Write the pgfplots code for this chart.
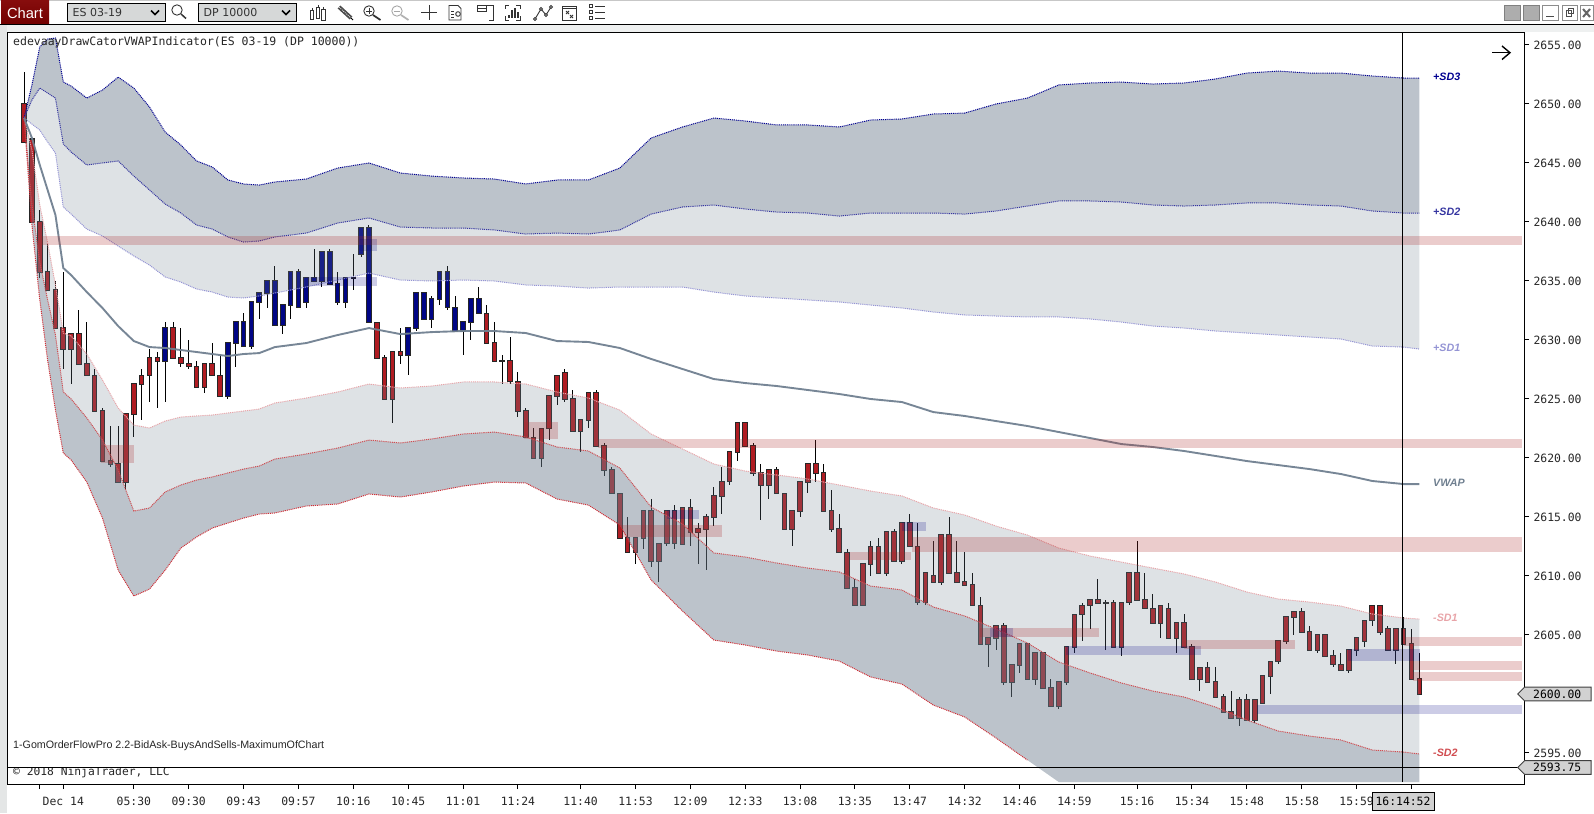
\documentclass[border=0pt]{standalone}
\usepackage{fontspec}
\usepackage{pgfplots}
\usepackage{pgfplotstable}
\pgfplotsset{compat=1.18}
\setmainfont{Liberation Sans}
\newfontfamily\mono{DejaVu Sans Mono}
\newfontfamily\dv{DejaVu Sans}
\definecolor{slate}{HTML}{708090}
\definecolor{cred}{HTML}{B01C22}
\definecolor{cblue}{HTML}{000585}
\definecolor{sred}{RGB}{170,40,40}
\definecolor{sblue}{RGB}{0,0,130}
\definecolor{winbg}{HTML}{EEF0F0}
\definecolor{framebg}{HTML}{E4E6E6}
\definecolor{sdA}{HTML}{000090}
\definecolor{sdB}{HTML}{3535A0}
\definecolor{sdC}{HTML}{9494D4}
\definecolor{smA}{HTML}{E8A4A8}
\definecolor{smB}{HTML}{D04C50}
\definecolor{smC}{HTML}{D03038}
% bar high top bottom low
\pgfplotstableread{
bar high top bot low
0 2652.75 2650 2646.75 2646.75
1 2647 2647 2640 2640
2 2641 2640 2635.75 2635.25
3 2638.25 2635.75 2634.25 2634.25
4 2635 2634.25 2631 2631
5 2635.75 2631 2629.25 2627.5
6 2630.5 2630.5 2629.25 2626.25
7 2632.5 2630.5 2628 2628
8 2631.5 2628 2627 2627
9 2627.5 2627 2624 2624
10 2624.25 2624 2619.75 2619.75
11 2622.75 2619.75 2619.5 2619.25
12 2622.75 2619.5 2618 2618
13 2623.75 2623.75 2618 2617.25
14 2626.25 2626.25 2623.75 2621.75
15 2627.5 2627 2626.25 2623.25
16 2629.25 2628.5 2627 2624.75
17 2629 2628.5 2628.25 2624.25
19 2631.5 2631 2628.5 2628.5
20 2631 2628.5 2628 2627.75
21 2630 2628 2627.75 2627.5
22 2628.25 2627.75 2626 2626
23 2628 2628 2626 2625.5
24 2629.75 2628 2627 2627
25 2628.75 2627 2625.25 2625.25
45 2631.5 2631.5 2628.5 2628.5
46 2628.75 2628.5 2625 2625
47 2629 2629 2625 2623
48 2631 2629 2628.75 2628
59 2633 2632.25 2629.75 2629.75
60 2631.5 2629.75 2628.25 2628.25
61 2628.75 2628.25 2628.25 2626.25
62 2630.25 2628.25 2626.5 2626.25
63 2627.25 2626.5 2624 2623.5
64 2624.25 2624 2621.75 2621.75
65 2622.5 2621.75 2620 2620
66 2622.5 2622.5 2620 2619.25
67 2625.25 2625.25 2622.5 2621.5
68 2627 2627 2625.25 2624.5
69 2627.5 2627.25 2625 2624.75
70 2625.75 2625 2622.25 2622.25
71 2623.25 2623.25 2622.25 2620.5
72 2625.5 2625.5 2623.25 2622.5
73 2625.75 2625.5 2621 2621
74 2621.25 2621 2619 2618.5
75 2619.25 2619 2617 2617
76 2617 2617 2613.25 2613.25
77 2615 2613.25 2612 2612
78 2613.25 2613.25 2612 2611
79 2615.5 2615.5 2613.25 2612.25
80 2616.5 2615.5 2611.25 2610.75
81 2612.75 2612.75 2611.25 2609.5
82 2615.5 2615.5 2612.75 2612.5
83 2616 2615.5 2612.75 2612.25
84 2615.75 2615.75 2612.75 2612.75
85 2616.5 2615.75 2613.75 2612.5
86 2614.5 2614 2613.75 2611
87 2615.25 2615 2614 2610.5
88 2617.5 2616.75 2615 2614.25
89 2619.25 2618 2616.75 2615.25
90 2620.5 2620.5 2618 2617.75
91 2623 2623 2620.5 2619.75
92 2623 2623 2621 2621
93 2621.25 2621 2618.75 2618.5
94 2619.5 2618.75 2617.75 2614.75
95 2619 2619 2617.75 2616.5
96 2619.25 2619 2617 2617
97 2617 2617 2614 2614
98 2615.5 2615.5 2614 2612.5
99 2618 2618 2615.5 2615
100 2619.5 2619.5 2618 2617
101 2621.5 2619.5 2618.75 2618
102 2619.5 2618.75 2615.5 2615.5
103 2617.25 2615.5 2614 2613.75
104 2615.25 2614 2612 2612
105 2612.25 2612 2609 2609
106 2609.75 2609 2607.5 2607.5
107 2611 2611 2607.5 2607.5
108 2613 2612.5 2611 2610
109 2613.25 2612.5 2610.25 2610.25
110 2613.75 2613.75 2610.25 2610
111 2614 2613.75 2611.25 2611.25
112 2614.5 2614.5 2611.25 2611
113 2615.25 2614.5 2612.5 2612.5
114 2614.5 2612.5 2607.75 2607.5
115 2610.25 2610.25 2607.75 2607.5
116 2613 2610 2609.5 2609.5
117 2613.5 2613.5 2609.5 2609.25
118 2615 2613.5 2610.25 2610.25
119 2613 2610.25 2609.5 2609.5
120 2612 2609.5 2609.25 2609.25
121 2610.25 2609.25 2607.5 2607.5
122 2608.25 2607.5 2604.25 2604.25
123 2604.75 2604.75 2604.25 2602.25
124 2605.75 2605.75 2604.75 2603.75
125 2606 2605.75 2601 2600.75
126 2602.5 2602.5 2601 2599.75
127 2604.25 2604.25 2602.5 2601.75
128 2604.25 2604.25 2601.25 2601.25
129 2603.5 2603.5 2601.25 2600.75
130 2603.5 2603.5 2600.5 2600.5
131 2601.25 2600.5 2599 2599
132 2601 2601 2599 2598.75
133 2604 2604 2601 2600.75
134 2606.75 2606.75 2604 2603.5
135 2607.75 2607.5 2606.75 2604.5
136 2608 2608 2607.5 2605.5
137 2609.75 2608 2607.75 2607.75
138 2608 2607.75 2607.75 2603.75
139 2608 2607.75 2604 2604
140 2607.75 2607.75 2604 2603.25
141 2610.25 2610.25 2607.75 2607.5
142 2613 2610.25 2608 2608
143 2610.25 2608 2607.25 2607.25
144 2608.5 2607.25 2606 2606
145 2607.5 2607.5 2606 2604.75
146 2607.75 2607.25 2604.75 2604.75
147 2606 2606 2604.75 2603.5
148 2606.75 2606 2604 2604
149 2604.25 2604 2601.25 2601.25
150 2602.25 2602.25 2601.25 2600.25
151 2602.75 2602.25 2601 2601
152 2602.25 2601 2599.75 2599.75
153 2600 2599.75 2598.5 2598.5
154 2600.25 2598.5 2598 2598
155 2599.75 2599.5 2598 2597.25
156 2600 2599.5 2597.75 2597.75
157 2599.5 2599.5 2597.75 2597.5
158 2601.5 2601.5 2599.25 2599.25
159 2602.75 2602.75 2601.5 2600
160 2604.5 2604.5 2602.75 2602.5
161 2606.5 2606.5 2604.5 2604.25
162 2607 2607 2606.5 2605
163 2607.25 2607 2605.25 2605.25
164 2605.75 2605.25 2603.75 2603.75
165 2605 2605 2603.75 2603.5
166 2605 2605 2603.25 2603.25
167 2603.75 2603.25 2602.5 2602.25
168 2603.5 2602.5 2602 2602
169 2603.75 2603.75 2602 2601.75
170 2604.75 2604.75 2603.75 2603.25
171 2606.25 2606.25 2604.5 2604
172 2607.5 2607.5 2606.25 2605.75
173 2607.5 2607.5 2605.25 2605
174 2605.75 2605.5 2603.75 2603.75
175 2605.5 2605.5 2603.75 2602.5
176 2606.5 2605.5 2604.25 2604.25
177 2605.5 2604.25 2601.25 2601.25
178 2603.5 2601.25 2600 2600
}\redbars
\pgfplotstableread{
bar high top bot low
18 2631.5 2631 2628.25 2624.75
26 2629.75 2629.75 2625.25 2625
27 2631.5 2631.5 2629.75 2627.75
28 2632.25 2631.5 2629.5 2629.5
29 2633.25 2633.25 2629.5 2629.25
30 2634 2634 2633.25 2631.75
31 2635 2635 2634 2632.75
32 2636.25 2635 2631.25 2631.25
33 2633 2633 2631.25 2630.5
34 2635.75 2635.75 2633 2631.75
35 2636 2635.75 2632.75 2632.75
36 2635.25 2635.25 2633.25 2632.75
37 2637.75 2635.25 2635 2635
38 2637.5 2637.5 2635 2634.5
39 2637.75 2637.5 2634.75 2634.75
40 2635.75 2634.75 2633.25 2633
41 2635.25 2635.25 2633.25 2632.75
42 2637.25 2635.25 2635.25 2634.25
43 2639.5 2639.5 2637.25 2637
44 2639.75 2639.5 2631.5 2631.5
49 2631 2631 2628.75 2627
50 2634 2634 2631 2630.75
51 2634 2634 2631.75 2631.75
52 2633.75 2633.5 2631.75 2631
53 2635.75 2635.75 2633.5 2633
54 2636.25 2635.75 2632.75 2632.5
55 2633.75 2632.75 2630.75 2630.75
56 2631.5 2631.5 2630.75 2628.75
57 2633.5 2633.5 2631.5 2630
58 2634.5 2633.5 2632.25 2632.25
}\bluebars
% bar sd3 sd2 sd1 vwap m1 m2 m3
\pgfplotstableread{
bar sd3 sd2 sd1 vwap m1 m2 m3
0 2648.81 2648.81 2648.81 2648.81 2648.81 2648.81 2648.81
1 2651.61 2650.34 2648.30 2647.12 2646.10 2641.44 2639.74
2 2654.83 2651.35 2647.79 2644.83 2641.44 2636.61 2633.39
3 2655.50 2650.93 2646.78 2642.71 2638.22 2633.39 2628.30
4 2655.59 2650.50 2645.84 2640.59 2634.66 2630.42 2624.06
5 2651.86 2646.61 2641.27 2636.10 2630.59 2625.59 2620.42
6 2651.52 2645.93 2640.67 2635.50 2630.34 2625.00 2619.83
8 2650.50 2644.83 2639.40 2634.06 2628.81 2623.39 2617.96
10 2651.18 2645.00 2638.81 2632.71 2626.61 2621.52 2614.91
12 2652.28 2645.17 2637.96 2631.18 2624.23 2618.98 2610.50
14 2651.35 2643.89 2637.12 2629.91 2622.79 2615.50 2608.30
16 2649.74 2642.71 2636.35 2629.40 2622.54 2615.76 2608.89
18 2647.62 2641.52 2635.34 2629.32 2623.13 2617.12 2610.50
20 2646.52 2640.76 2634.91 2629.15 2623.47 2617.71 2612.37
22 2645.17 2639.74 2634.32 2628.98 2623.56 2618.13 2613.30
24 2644.66 2639.40 2634.06 2628.81 2623.64 2618.39 2614.06
26 2643.56 2638.73 2633.64 2628.64 2623.81 2618.73 2614.49
28 2643.22 2638.30 2633.56 2628.81 2623.98 2619.06 2614.91
30 2643.13 2638.39 2633.73 2628.89 2624.15 2619.32 2615.25
32 2643.39 2638.73 2633.98 2629.40 2624.66 2619.91 2615.34
36 2643.64 2639.06 2634.49 2629.74 2625.08 2620.34 2615.93
40 2644.57 2639.91 2635.08 2630.42 2625.59 2620.84 2616.10
44 2645.00 2640.34 2635.67 2631.01 2626.27 2621.52 2616.95
48 2644.15 2639.57 2635.08 2630.50 2625.93 2621.27 2616.69
52 2643.89 2639.49 2635.00 2630.67 2626.10 2621.61 2617.12
56 2643.73 2639.49 2635.08 2630.76 2626.44 2622.03 2617.62
60 2643.64 2639.32 2635.00 2630.76 2626.44 2622.20 2617.96
64 2643.22 2638.98 2634.66 2630.59 2626.27 2621.78 2617.88
68 2643.56 2639.06 2634.57 2629.91 2625.59 2620.93 2616.52
72 2643.56 2638.98 2634.40 2629.83 2625.08 2620.59 2616.01
76 2644.57 2639.32 2634.49 2629.32 2624.06 2619.15 2614.32
80 2647.12 2640.67 2634.49 2628.39 2622.03 2615.84 2609.66
84 2648.05 2641.27 2634.49 2627.54 2620.76 2614.40 2607.03
88 2648.81 2641.44 2634.06 2626.69 2619.49 2611.95 2604.57
92 2648.56 2641.10 2633.73 2626.35 2618.89 2611.61 2604.15
96 2648.22 2640.84 2633.56 2626.10 2618.56 2611.10 2603.64
100 2648.22 2640.76 2633.39 2625.76 2618.22 2610.67 2603.30
104 2648.05 2640.50 2633.22 2625.42 2617.71 2610.34 2602.79
108 2648.64 2640.76 2632.96 2625.00 2617.20 2609.15 2601.44
112 2648.73 2640.76 2632.71 2624.74 2616.78 2608.81 2600.84
116 2649.15 2640.76 2632.37 2623.89 2615.76 2607.37 2599.06
120 2649.23 2640.67 2632.12 2623.56 2615.17 2606.61 2598.05
124 2650.00 2640.93 2632.03 2623.13 2614.23 2605.50 2596.27
128 2650.50 2641.35 2631.95 2622.71 2613.47 2604.32 2594.40
132 2651.61 2641.78 2631.95 2622.20 2612.37 2602.71 2592.54
136 2651.78 2641.78 2631.78 2621.69 2611.69 2601.78 2592.54
140 2651.86 2641.69 2631.52 2621.18 2611.18 2600.93 2592.54
144 2651.69 2641.44 2631.18 2620.93 2610.67 2600.25 2592.54
148 2651.78 2641.35 2631.01 2620.59 2610.17 2599.74 2592.54
152 2652.12 2641.44 2630.76 2620.17 2609.49 2598.89 2592.54
156 2652.62 2641.61 2630.59 2619.74 2608.64 2597.79 2592.54
160 2652.79 2641.61 2630.42 2619.40 2608.05 2596.86 2592.54
164 2652.62 2641.44 2630.25 2619.06 2607.79 2596.44 2592.54
168 2652.62 2641.35 2630.08 2618.64 2607.45 2596.10 2592.54
172 2652.37 2640.93 2629.49 2618.05 2606.78 2595.25 2592.54
176 2652.20 2640.76 2629.40 2617.79 2606.44 2595.08 2592.54
178 2652.20 2640.76 2629.23 2617.79 2606.35 2594.91 2592.54
}\bands
% band edges, as lists for the closed fills
\def\SDthreeF{(0,2648.81)(1,2651.61)(2,2654.83)(3,2655.50)(4,2655.59)(5,2651.86)(6,2651.52)(8,2650.50)(10,2651.18)(12,2652.28)(14,2651.35)(16,2649.74)(18,2647.62)(20,2646.52)(22,2645.17)(24,2644.66)(26,2643.56)(28,2643.22)(30,2643.13)(32,2643.39)(36,2643.64)(40,2644.57)(44,2645.00)(48,2644.15)(52,2643.89)(56,2643.73)(60,2643.64)(64,2643.22)(68,2643.56)(72,2643.56)(76,2644.57)(80,2647.12)(84,2648.05)(88,2648.81)(92,2648.56)(96,2648.22)(100,2648.22)(104,2648.05)(108,2648.64)(112,2648.73)(116,2649.15)(120,2649.23)(124,2650.00)(128,2650.50)(132,2651.61)(136,2651.78)(140,2651.86)(144,2651.69)(148,2651.78)(152,2652.12)(156,2652.62)(160,2652.79)(164,2652.62)(168,2652.62)(172,2652.37)(176,2652.20)(178,2652.20)}
\def\SDtwoF{(0,2648.81)(1,2650.34)(2,2651.35)(3,2650.93)(4,2650.50)(5,2646.61)(6,2645.93)(8,2644.83)(10,2645.00)(12,2645.17)(14,2643.89)(16,2642.71)(18,2641.52)(20,2640.76)(22,2639.74)(24,2639.40)(26,2638.73)(28,2638.30)(30,2638.39)(32,2638.73)(36,2639.06)(40,2639.91)(44,2640.34)(48,2639.57)(52,2639.49)(56,2639.49)(60,2639.32)(64,2638.98)(68,2639.06)(72,2638.98)(76,2639.32)(80,2640.67)(84,2641.27)(88,2641.44)(92,2641.10)(96,2640.84)(100,2640.76)(104,2640.50)(108,2640.76)(112,2640.76)(116,2640.76)(120,2640.67)(124,2640.93)(128,2641.35)(132,2641.78)(136,2641.78)(140,2641.69)(144,2641.44)(148,2641.35)(152,2641.44)(156,2641.61)(160,2641.61)(164,2641.44)(168,2641.35)(172,2640.93)(176,2640.76)(178,2640.76)}
\def\SDtwoR{(178,2640.76)(176,2640.76)(172,2640.93)(168,2641.35)(164,2641.44)(160,2641.61)(156,2641.61)(152,2641.44)(148,2641.35)(144,2641.44)(140,2641.69)(136,2641.78)(132,2641.78)(128,2641.35)(124,2640.93)(120,2640.67)(116,2640.76)(112,2640.76)(108,2640.76)(104,2640.50)(100,2640.76)(96,2640.84)(92,2641.10)(88,2641.44)(84,2641.27)(80,2640.67)(76,2639.32)(72,2638.98)(68,2639.06)(64,2638.98)(60,2639.32)(56,2639.49)(52,2639.49)(48,2639.57)(44,2640.34)(40,2639.91)(36,2639.06)(32,2638.73)(30,2638.39)(28,2638.30)(26,2638.73)(24,2639.40)(22,2639.74)(20,2640.76)(18,2641.52)(16,2642.71)(14,2643.89)(12,2645.17)(10,2645.00)(8,2644.83)(6,2645.93)(5,2646.61)(4,2650.50)(3,2650.93)(2,2651.35)(1,2650.34)}
\def\SDoneR{(178,2629.23)(176,2629.40)(172,2629.49)(168,2630.08)(164,2630.25)(160,2630.42)(156,2630.59)(152,2630.76)(148,2631.01)(144,2631.18)(140,2631.52)(136,2631.78)(132,2631.95)(128,2631.95)(124,2632.03)(120,2632.12)(116,2632.37)(112,2632.71)(108,2632.96)(104,2633.22)(100,2633.39)(96,2633.56)(92,2633.73)(88,2634.06)(84,2634.49)(80,2634.49)(76,2634.49)(72,2634.40)(68,2634.57)(64,2634.66)(60,2635.00)(56,2635.08)(52,2635.00)(48,2635.08)(44,2635.67)(40,2635.08)(36,2634.49)(32,2633.98)(30,2633.73)(28,2633.56)(26,2633.64)(24,2634.06)(22,2634.32)(20,2634.91)(18,2635.34)(16,2636.35)(14,2637.12)(12,2637.96)(10,2638.81)(8,2639.40)(6,2640.67)(5,2641.27)(4,2645.84)(3,2646.78)(2,2647.79)(1,2648.30)}
\def\MoneF{(0,2648.81)(1,2646.10)(2,2641.44)(3,2638.22)(4,2634.66)(5,2630.59)(6,2630.34)(8,2628.81)(10,2626.61)(12,2624.23)(14,2622.79)(16,2622.54)(18,2623.13)(20,2623.47)(22,2623.56)(24,2623.64)(26,2623.81)(28,2623.98)(30,2624.15)(32,2624.66)(36,2625.08)(40,2625.59)(44,2626.27)(48,2625.93)(52,2626.10)(56,2626.44)(60,2626.44)(64,2626.27)(68,2625.59)(72,2625.08)(76,2624.06)(80,2622.03)(84,2620.76)(88,2619.49)(92,2618.89)(96,2618.56)(100,2618.22)(104,2617.71)(108,2617.20)(112,2616.78)(116,2615.76)(120,2615.17)(124,2614.23)(128,2613.47)(132,2612.37)(136,2611.69)(140,2611.18)(144,2610.67)(148,2610.17)(152,2609.49)(156,2608.64)(160,2608.05)(164,2607.79)(168,2607.45)(172,2606.78)(176,2606.44)(178,2606.35)}
\def\MtwoF{(0,2648.81)(1,2641.44)(2,2636.61)(3,2633.39)(4,2630.42)(5,2625.59)(6,2625.00)(8,2623.39)(10,2621.52)(12,2618.98)(14,2615.50)(16,2615.76)(18,2617.12)(20,2617.71)(22,2618.13)(24,2618.39)(26,2618.73)(28,2619.06)(30,2619.32)(32,2619.91)(36,2620.34)(40,2620.84)(44,2621.52)(48,2621.27)(52,2621.61)(56,2622.03)(60,2622.20)(64,2621.78)(68,2620.93)(72,2620.59)(76,2619.15)(80,2615.84)(84,2614.40)(88,2611.95)(92,2611.61)(96,2611.10)(100,2610.67)(104,2610.34)(108,2609.15)(112,2608.81)(116,2607.37)(120,2606.61)(124,2605.50)(128,2604.32)(132,2602.71)(136,2601.78)(140,2600.93)(144,2600.25)(148,2599.74)(152,2598.89)(156,2597.79)(160,2596.86)(164,2596.44)(168,2596.10)(172,2595.25)(176,2595.08)(178,2594.91)}
\def\MtwoR{(178,2594.91)(176,2595.08)(172,2595.25)(168,2596.10)(164,2596.44)(160,2596.86)(156,2597.79)(152,2598.89)(148,2599.74)(144,2600.25)(140,2600.93)(136,2601.78)(132,2602.71)(128,2604.32)(124,2605.50)(120,2606.61)(116,2607.37)(112,2608.81)(108,2609.15)(104,2610.34)(100,2610.67)(96,2611.10)(92,2611.61)(88,2611.95)(84,2614.40)(80,2615.84)(76,2619.15)(72,2620.59)(68,2620.93)(64,2621.78)(60,2622.20)(56,2622.03)(52,2621.61)(48,2621.27)(44,2621.52)(40,2620.84)(36,2620.34)(32,2619.91)(30,2619.32)(28,2619.06)(26,2618.73)(24,2618.39)(22,2618.13)(20,2617.71)(18,2617.12)(16,2615.76)(14,2615.50)(12,2618.98)(10,2621.52)(8,2623.39)(6,2625.00)(5,2625.59)(4,2630.42)(3,2633.39)(2,2636.61)(1,2641.44)}
\def\MthreeR{(178,2592.54)(132,2592.54)(128,2594.40)(124,2596.27)(120,2598.05)(116,2599.06)(112,2600.84)(108,2601.44)(104,2602.79)(100,2603.30)(96,2603.64)(92,2604.15)(88,2604.57)(84,2607.03)(80,2609.66)(76,2614.32)(72,2616.01)(68,2616.52)(64,2617.88)(60,2617.96)(56,2617.62)(52,2617.12)(48,2616.69)(44,2616.95)(40,2616.10)(36,2615.93)(32,2615.34)(30,2615.25)(28,2614.91)(26,2614.49)(24,2614.06)(22,2613.30)(20,2612.37)(18,2610.50)(16,2608.89)(14,2608.30)(12,2610.50)(10,2614.91)(8,2617.96)(6,2619.83)(5,2620.42)(4,2624.06)(3,2628.30)(2,2633.39)(1,2639.74)}
\newcommand{\bandfill}[3]{\edef\temp{\noexpand\addplot[draw=none,fill=slate,fill opacity=#1,forget plot] coordinates {#2#3} --cycle;}\temp}
\newcommand{\candles}[2]{%
 \addplot[draw=none,mark=none,forget plot,error bars/.cd,y dir=both,y explicit,error mark=none,
   error bar style={line width=1bp,black}]
   table[x=bar,y=top,y error plus expr={\thisrow{high}-\thisrow{top}},y error minus expr={\thisrow{top}-\thisrow{low}}]{#1};
 \addplot[draw=none,mark=none,forget plot,error bars/.cd,y dir=both,y explicit,error mark=none,
   error bar style={line width=5.6bp,black!85}]
   table[x=bar,y expr={(\thisrow{top}+\thisrow{bot})/2},y error expr={(\thisrow{top}-\thisrow{bot})/2+0.075}]{#1};
 \addplot[draw=none,mark=none,forget plot,error bars/.cd,y dir=both,y explicit,error mark=none,
   error bar style={line width=3.6bp,#2}]
   table[x=bar,y expr={(\thisrow{top}+\thisrow{bot})/2},y error expr={max((\thisrow{top}-\thisrow{bot})/2-0.01,0)}]{#1};
}
\def\sredop{0.24}
\def\sblueop{0.2}
\newcommand{\strp}[5]{\addplot[draw=none,fill=#1,fill opacity=\csname #1op\endcsname,forget plot] coordinates {(#2,#4)(#3,#4)(#3,#5)(#2,#5)} --cycle;}
\tikzset{edge/.style={line width=1bp,dash pattern=on 1bp off 0.9bp}}
\begin{document}
\begin{tikzpicture}
\begin{scope}[x=1bp,y=-1bp]
\useasboundingbox (0,0) rectangle (1594,813);
% window frame
\fill[framebg] (0,25) rectangle (7,813);
\fill[winbg] (7,25) rectangle (1594,32);
\fill[black!22] (0,0) rectangle (1594,1);
\draw[black,line width=1bp] (0,24.5) -- (1594,24.5);
\end{scope}
\begin{axis}[
  at={(7.5bp,-784bp)},anchor=south west,
  scale only axis,width=1516.5bp,height=752bp,
  xmin=-2.118,xmax=191.36,ymin=2592.37,ymax=2656.10,
  axis line style={line width=1bp,black},
  xtick pos=bottom,ytick pos=right,yticklabel pos=right,
  tick align=outside,major tick length=5bp,
  tick style={line width=1bp,black},
  xtick={2,5,14,21,28,35,42,49,56,63,71,78,85,92,99,106,113,120,127,134,142,149,156,163,170,177},
  xticklabels={{},Dec 14,05:30,09:30,09:43,09:57,10:16,10:45,11:01,11:24,11:40,11:53,12:09,12:33,13:08,13:35,13:47,14:32,14:46,14:59,15:16,15:34,15:48,15:58,15:59,{}},
  ytick={2595,2600,...,2655},
  tick label style={font=\mono\fontsize{11.4bp}{13bp}\selectfont,text=black!85},
  x tick label style={yshift=-4.5bp},
  y tick label style={xshift=1bp,/pgf/number format/.cd,fixed,fixed zerofill,precision=2,1000 sep={},assume math mode=true},
  clip=true,
]
\candles{\redbars}{cred}
\candles{\bluebars}{cblue}
% bands
\bandfill{0.47}{\SDthreeF}{\SDtwoR}
\bandfill{0.23}{\SDtwoF}{\SDoneR}
\bandfill{0.23}{\MoneF}{\MtwoR}
\bandfill{0.47}{\MtwoF}{\MthreeR}
% edges
\addplot[sdA,edge,forget plot] table[x=bar,y=sd3]{\bands};
\addplot[sdB,edge,forget plot] table[x=bar,y=sd2]{\bands};
\addplot[sdC,edge,forget plot] table[x=bar,y=sd1]{\bands};
\addplot[smA,edge,forget plot] table[x=bar,y=m1]{\bands};
\addplot[smB,edge,forget plot] table[x=bar,y=m2]{\bands};
\addplot[smC,edge,forget plot,restrict x to domain=0:131] table[x=bar,y=m3]{\bands};
\addplot[slate,line width=1.9bp,opacity=.95,forget plot] table[x=bar,y=vwap]{\bands};
% zones
\strp{sred}{2.12}{191.1}{2638.81}{2638.05}
\strp{sred}{9.77}{14.02}{2621.1}{2619.58}
\strp{sblue}{42.86}{45.03}{2638.56}{2637.54}
\strp{sblue}{35.84}{45.03}{2635.34}{2634.58}
\strp{sred}{63.82}{68.12}{2623.08}{2621.61}
\strp{sred}{73.26}{191.1}{2621.61}{2620.85}
\strp{sred}{75.81}{89.04}{2614.32}{2613.31}
\strp{sblue}{82.02}{86.11}{2615.6}{2614.83}
\strp{sred}{105.37}{113.15}{2612.03}{2611.36}
\strp{sblue}{111.97}{115.07}{2614.58}{2613.81}
\strp{sred}{113.28}{191.1}{2613.31}{2612.0}
\strp{sred}{121.96}{137.14}{2605.59}{2604.83}
\strp{sblue}{123.23}{126.17}{2605.59}{2604.83}
\strp{sblue}{132.93}{150.16}{2604.07}{2603.31}
\strp{sred}{147.98}{162.14}{2604.58}{2603.81}
\strp{sblue}{168.91}{178.1}{2603.79}{2602.8}
\strp{sred}{176.05}{191.1}{2604.83}{2604.07}
\strp{sred}{177.2}{191.1}{2602.8}{2602.03}
\strp{sred}{177.2}{191.1}{2601.86}{2601.1}
\strp{sblue}{157.26}{191.1}{2599.07}{2598.31}
% crosshair
\addplot[black,line width=1bp,forget plot] coordinates {(-2.118,2593.75)(191.36,2593.75)};
\addplot[black,line width=1bp,forget plot] coordinates {(175.84,2592.54)(175.84,2656.10)};
\end{axis}
\begin{scope}[x=1bp,y=-1bp]
% texts in the chart
\node[anchor=west,inner sep=0,font=\mono\fontsize{11.5bp}{13bp}\selectfont,text=black!85] at (13,42.5) {edevaayDrawCatorVWAPIndicator(ES 03-19 (DP 10000))};
\node[anchor=west,inner sep=0,font=\fontsize{10.7bp}{12bp}\selectfont,text=black!85] at (13,746) {1-GomOrderFlowPro 2.2-BidAsk-BuysAndSells-MaximumOfChart};
\begin{scope}
\clip (8,768) rectangle (400,783);
\node[anchor=west,inner sep=0,font=\mono\fontsize{11.3bp}{13bp}\selectfont,text=black!85] at (13,772) {© 2018 NinjaTrader, LLC};
\end{scope}
\foreach \t/\yy/\c in {+SD3/77/sdA,+SD2/212/sdB,+SD1/348/sdC,VWAP/483/slate,-SD1/618/smA,-SD2/753/smB}
  \node[anchor=west,inner sep=0,font=\bfseries\itshape\fontsize{10.7bp}{12bp}\selectfont,text=\c] at (1433,\yy) {\t};
\draw[black,line width=1.4bp] (1492,52.7) -- (1510,52.7);
\draw[black,line width=1.4bp] (1502,46) -- (1510,52.7) -- (1502,59.5);
% price markers
\foreach \yy/\t in {694/2600.00,767.5/2593.75}{
  \draw[black!75,fill=black!18,line width=1bp] (1517.7,\yy) -- (1524.5,\yy-6.8) -- (1591,\yy-6.8) -- (1591,\yy+6.8) -- (1524.5,\yy+6.8) -- cycle;
  \node[anchor=west,inner sep=0,font=\mono\fontsize{11.4bp}{13bp}\selectfont,text=black] at (1533,\yy) {\t};
}
\draw[black,fill=black!18,line width=1bp] (1372,792) rectangle (1434,810);
\node[inner sep=0,font=\mono\fontsize{11.4bp}{13bp}\selectfont,text=black] at (1403,801.5) {16:14:52};
% toolbar
\shade[top color=red!50!black!95,bottom color=red!45!black] (1,1) rectangle (49,24);
\node[inner sep=0,font=\fontsize{14.7bp}{16bp}\selectfont,text=white] at (25,12.8) {Chart};
\foreach \xa/\xb/\t in {67.5/165/ES 03-19,198.5/296/DP 10000}{
  \draw[black,fill=winbg!90!black,line width=1bp] (\xa,3.5) rectangle (\xb,22);
  \node[anchor=west,inner sep=0,font=\dv\fontsize{11bp}{13bp}\selectfont,text=black!80] at (\xa+5,12.8) {\t};
  \draw[black,line width=1.6bp] (\xb-14,10.5) -- (\xb-10,14.5) -- (\xb-6,10.5);
}
\tikzset{ic/.style={black!80,line width=.9bp}}
% magnifier
\draw[ic] (177,10) circle (5.2); \draw[black!80,line width=1.5bp] (181,14) -- (186,18.5);
% candle icon
\foreach \cx/\ya/\yb in {312/10/19,318/7/18,323.5/9/20}{\draw[ic] (\cx,\ya-2) -- (\cx,\yb+1); \draw[ic,fill=white] (\cx-1.7,\ya) rectangle (\cx+1.7,\yb);}
% pencil
\draw[black!70,line width=4bp] (339,7) -- (351,18); \draw[white,line width=.6bp,dash pattern=on 1bp off 1bp] (339,7) -- (351,18);
\draw[black,line width=1bp] (351,18) -- (353,20);
% zoom in / out
\draw[ic] (369,11) circle (5.2); \draw[ic] (366,11) -- (372,11) (369,8) -- (369,14); \draw[black!80,line width=1.7bp] (373,15) -- (380.5,20);
\draw[black!35,line width=.9bp] (397,11) circle (5.2); \draw[black!35,line width=.9bp] (394,11) -- (400,11); \draw[black!30,line width=1.7bp] (401,15) -- (408.5,20);
% cross
\draw[ic] (421,12.5) -- (437,12.5) (429,5) -- (429,20);
% data box
\draw[ic] (449,5.5) -- (458,5.5) -- (461,8.5) -- (461,20) -- (449,20) -- cycle; \draw[ic] (451,11) -- (454,11) (451,14) -- (454,14) (451,17) -- (454,17); \draw[ic] (458,14) circle (2.3);
% panels
\draw[ic] (477.5,5.5) rectangle (486,11); \draw[ic] (477.5,8) -- (486,8); \draw[ic] (486,5.5) -- (493,5.5) -- (493,20) -- (489,20);
% bar chart
\draw[ic] (505,9) -- (505,5.5) -- (509,5.5) (516,5.5) -- (520,5.5) -- (520,9) (505,16) -- (505,20) -- (509,20) (516,20) -- (520,20) -- (520,16);
\foreach \cx/\ya in {509/15,512/10,515/8,518/12}{\draw[black!80,line width=1.3bp] (\cx,\ya) -- (\cx,18);}
% line
\draw[ic] (535,19) -- (541,9) -- (546,15) -- (551,7); \foreach \p in {(535,19),(541,9),(546,15),(551,7)}{\draw[ic,fill=white] \p circle (1.4);}
% sheet
\draw[ic] (562.5,6) rectangle (576,20); \draw[ic] (562.5,8.5) -- (576,8.5); \draw[ic] (566,11) -- (569,14) (569,11) -- (566,14) (570,15) -- (573,18) (573,15) -- (570,18);
% list
\foreach \yy in {6,12,18}{\draw[ic] (589,\yy-1.8) rectangle (592.6,\yy+1.8); \draw[ic] (595,\yy) -- (605,\yy);}
% window buttons
\foreach \xa/\xb in {1504/1520,1523/1539}{\draw[black!50,fill=black!32,line width=.8bp] (\xa,5.5) rectangle (\xb,20.5);}
\foreach \xa/\xb in {1542/1558,1562/1577,1580/1593}{\draw[black!45,fill=white,line width=.8bp] (\xa,5.5) rectangle (\xb,20.5);}
\draw[black!70,line width=1.5bp] (1546,16.5) -- (1554,16.5);
\draw[black!70,line width=1bp] (1566,11) rectangle (1571,17); \draw[black!70,line width=1bp] (1568.5,9) rectangle (1573.5,14);
\draw[black!60,line width=2bp] (1583,9) -- (1590,17) (1590,9) -- (1583,17);
\end{scope}
\end{tikzpicture}
\end{document}
